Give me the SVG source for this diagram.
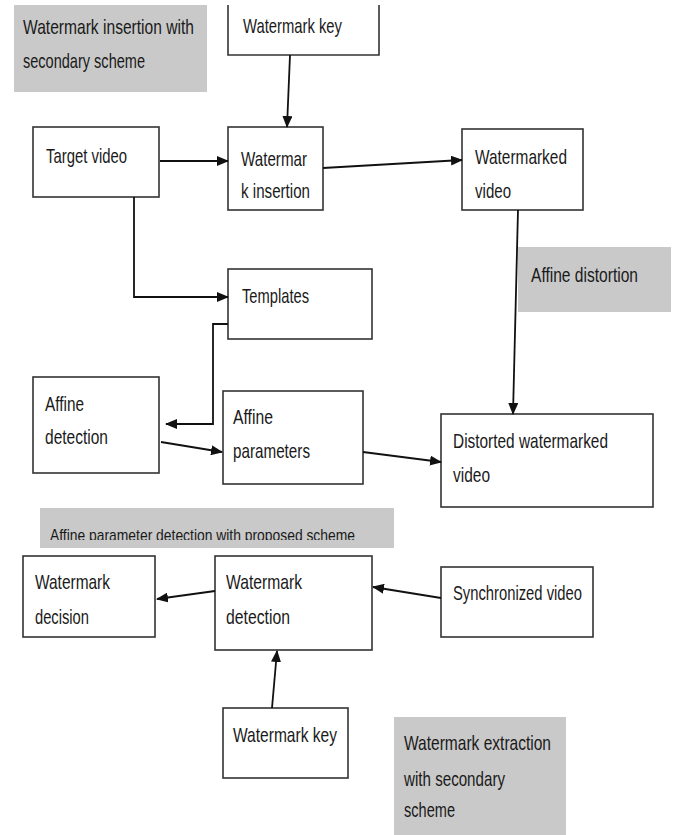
<svg xmlns="http://www.w3.org/2000/svg" width="675" height="835" viewBox="0 0 675 835">
<style>
.box{fill:#fff;stroke:#333;stroke-width:1.6}
.note{fill:#c9c9c9;stroke:none}
.t{font-family:"Liberation Sans","Open Sans",sans-serif;font-size:21px;fill:#1a1a1a}
.s{font-size:17px}
.c{fill:none;stroke:#111;stroke-width:1.8}
</style>
<defs>
<marker id="ah" markerUnits="userSpaceOnUse" markerWidth="12" markerHeight="10" refX="11" refY="5" orient="auto">
<path d="M0,0 L12,5 L0,10 Z" fill="#111"/>
</marker>
<clipPath id="clipNote"><rect x="40" y="508" width="354" height="32"/></clipPath>
</defs>

<g id="note-insertion">
<rect class="note" x="14" y="5" width="193" height="87"/>
<text class="t" x="23" y="34" textLength="171" lengthAdjust="spacingAndGlyphs">Watermark insertion with</text>
<text class="t" x="23" y="68" textLength="122" lengthAdjust="spacingAndGlyphs">secondary scheme</text>
</g>

<g id="note-distortion">
<rect class="note" x="518" y="247" width="153" height="65"/>
<text class="t" x="531" y="282" textLength="107" lengthAdjust="spacingAndGlyphs">Affine distortion</text>
</g>

<g id="note-affine">
<rect class="note" x="40" y="508" width="354" height="40"/>
<text class="t s" x="50" y="541" textLength="305" lengthAdjust="spacingAndGlyphs" clip-path="url(#clipNote)">Affine parameter detection with proposed scheme</text>
</g>

<g id="note-extraction">
<rect class="note" x="394" y="717" width="172" height="120"/>
<text class="t" x="404" y="750" textLength="147" lengthAdjust="spacingAndGlyphs">Watermark extraction</text>
<text class="t" x="404" y="786" textLength="101" lengthAdjust="spacingAndGlyphs">with secondary</text>
<text class="t" x="404" y="817" textLength="51" lengthAdjust="spacingAndGlyphs">scheme</text>
</g>

<g id="watermark-key-top">
<path d="M228,5 V55 H379 V5" fill="#fff" stroke="#333" stroke-width="1.6"/>
<text class="t" x="243" y="33" textLength="99" lengthAdjust="spacingAndGlyphs">Watermark key</text>
</g>

<g id="target-video">
<rect class="box" x="33" y="127" width="126" height="70"/>
<text class="t" x="46" y="163" textLength="81" lengthAdjust="spacingAndGlyphs">Target video</text>
</g>

<g id="watermark-insertion">
<rect class="box" x="228" y="127" width="95" height="83"/>
<text class="t" x="241" y="166" textLength="66" lengthAdjust="spacingAndGlyphs">Watermar</text>
<text class="t" x="241" y="198" textLength="69" lengthAdjust="spacingAndGlyphs">k insertion</text>
</g>

<g id="watermarked-video">
<rect class="box" x="462" y="129" width="121" height="81"/>
<text class="t" x="475" y="164" textLength="92" lengthAdjust="spacingAndGlyphs">Watermarked</text>
<text class="t" x="475" y="198" textLength="36" lengthAdjust="spacingAndGlyphs">video</text>
</g>

<g id="templates">
<rect class="box" x="228" y="269" width="144" height="70"/>
<text class="t" x="242" y="303" textLength="67" lengthAdjust="spacingAndGlyphs">Templates</text>
</g>

<g id="affine-detection">
<rect class="box" x="33" y="377" width="126" height="96"/>
<text class="t" x="45" y="411" textLength="39" lengthAdjust="spacingAndGlyphs">Affine</text>
<text class="t" x="45" y="444" textLength="63" lengthAdjust="spacingAndGlyphs">detection</text>
</g>

<g id="affine-parameters">
<rect class="box" x="223" y="391" width="140" height="93"/>
<text class="t" x="233" y="424" textLength="40" lengthAdjust="spacingAndGlyphs">Affine</text>
<text class="t" x="233" y="458" textLength="77" lengthAdjust="spacingAndGlyphs">parameters</text>
</g>

<g id="distorted-video">
<rect class="box" x="441" y="414" width="212" height="93"/>
<text class="t" x="453" y="448" textLength="155" lengthAdjust="spacingAndGlyphs">Distorted watermarked</text>
<text class="t" x="453" y="482" textLength="37" lengthAdjust="spacingAndGlyphs">video</text>
</g>

<g id="watermark-decision">
<rect class="box" x="23" y="556" width="132" height="81"/>
<text class="t" x="35" y="589" textLength="75" lengthAdjust="spacingAndGlyphs">Watermark</text>
<text class="t" x="35" y="624" textLength="54" lengthAdjust="spacingAndGlyphs">decision</text>
</g>

<g id="watermark-detection">
<rect class="box" x="215" y="556" width="157" height="94"/>
<text class="t" x="226" y="589" textLength="76" lengthAdjust="spacingAndGlyphs">Watermark</text>
<text class="t" x="226" y="624" textLength="64" lengthAdjust="spacingAndGlyphs">detection</text>
</g>

<g id="synchronized-video">
<rect class="box" x="441" y="567" width="152" height="70"/>
<text class="t" x="453" y="600" textLength="129" lengthAdjust="spacingAndGlyphs">Synchronized video</text>
</g>

<g id="watermark-key-bottom">
<rect class="box" x="223" y="708" width="125" height="70"/>
<text class="t" x="233" y="742" textLength="104" lengthAdjust="spacingAndGlyphs">Watermark key</text>
</g>

<g id="connectors">
<path class="c" d="M290,55 L287,127" marker-end="url(#ah)"/>
<path class="c" stroke-width="2.2" d="M160,161 L228,161" marker-end="url(#ah)"/>
<path class="c" d="M323,168 L462,160" marker-end="url(#ah)"/>
<path class="c" d="M134,197 V297 H228" marker-end="url(#ah)"/>
<path class="c" d="M518,210 L513,414" marker-end="url(#ah)"/>
<path class="c" stroke-width="2.2" d="M228,324 H213 V424 H166" marker-end="url(#ah)"/>
<path class="c" d="M161,442 L222,452" marker-end="url(#ah)"/>
<path class="c" d="M363,452 L441,462" marker-end="url(#ah)"/>
<path class="c" d="M441,598 L373,587" marker-end="url(#ah)"/>
<path class="c" d="M215,591 L157,599" marker-end="url(#ah)"/>
<path class="c" d="M272,708 L277,651" marker-end="url(#ah)"/>
</g>
</svg>
